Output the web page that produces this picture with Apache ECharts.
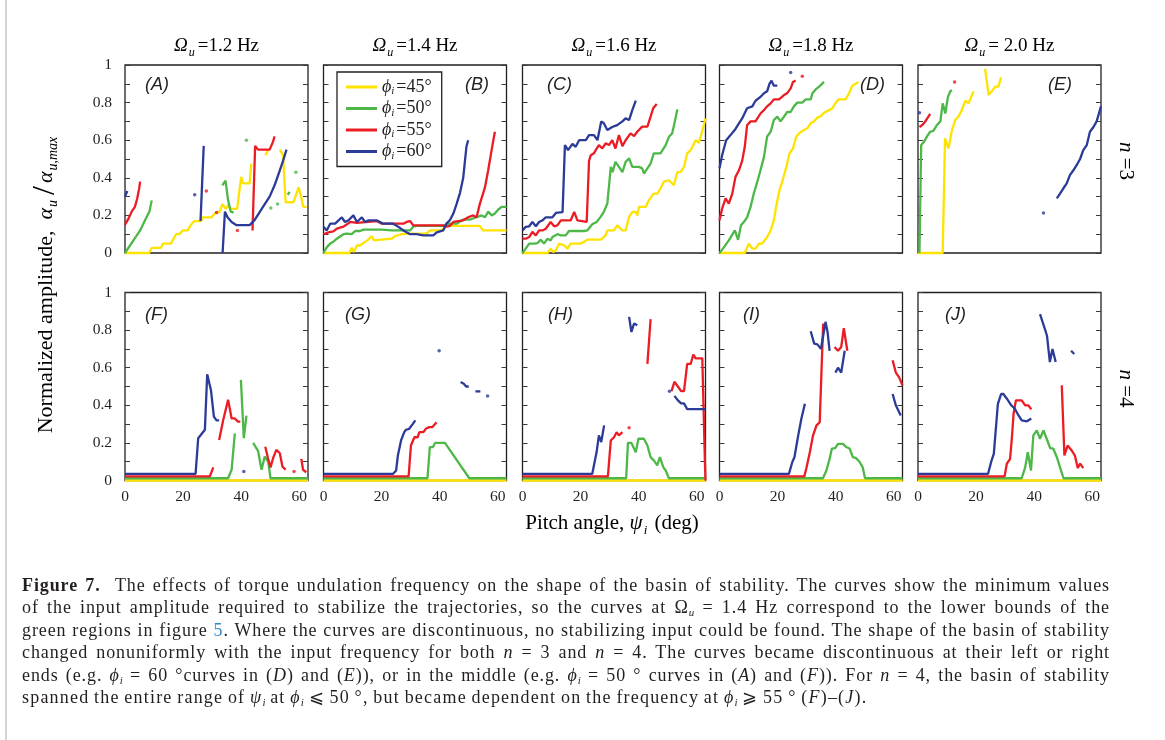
<!DOCTYPE html>
<html><head><meta charset="utf-8">
<script src="https://cdn.jsdelivr.net/npm/echarts@6/dist/echarts.min.js"></script>
<style>
html,body{margin:0;padding:0;background:#fff;}
#chart{position:absolute;left:0;top:0;width:1165px;height:740px;}
#edge{position:absolute;left:5px;top:0;width:2px;height:740px;background:#d4d4d4;}
#cap{position:absolute;left:22px;top:574px;width:1088px;font-family:'Liberation Serif',serif;font-size:18px;letter-spacing:0.9px;word-spacing:-1px;line-height:22.4px;color:#231f20;}
#cap div{text-align:justify;text-align-last:justify;white-space:nowrap;}
#cap div.last{text-align-last:left;letter-spacing:1.2px;}
#cap sub{font-size:11px;vertical-align:-3px;line-height:0;letter-spacing:0;}
#cap .ref{color:#2e8bc9;}
</style></head>
<body>
<div id="edge"></div>
<div id="chart"></div>
<div id="cap">
<div><b>Figure 7.</b>&nbsp; The effects of torque undulation frequency on the shape of the basin of stability. The curves show the minimum values</div>
<div>of the input amplitude required to stabilize the trajectories, so the curves at Ω<sub><i>u</i></sub> = 1.4 Hz correspond to the lower bounds of the</div>
<div>green regions in figure <span class="ref">5</span>. Where the curves are discontinuous, no stabilizing input could be found. The shape of the basin of stability</div>
<div>changed nonuniformly with the input frequency for both <i>n</i> = 3 and <i>n</i> = 4. The curves became discontinuous at their left or right</div>
<div>ends (e.g. <i>ϕ</i><sub><i>i</i></sub> = 60 °curves in (<i>D</i>) and (<i>E</i>)), or in the middle (e.g. <i>ϕ</i><sub><i>i</i></sub> = 50 ° curves in (<i>A</i>) and (<i>F</i>)). For <i>n</i> = 4, the basin of stability</div>
<div class="last">spanned the entire range of <i>ψ</i><sub><i>i</i></sub> at <i>ϕ</i><sub><i>i</i></sub> ⩽ 50 °, but became dependent on the frequency at <i>ϕ</i><sub><i>i</i></sub> ⩾ 55 ° (<i>F</i>)–(<i>J</i>).</div>
</div>
<script>
// ---------- categories / labels ----------
const freqLabels = ['=1.2 Hz', '=1.4 Hz', '=1.6 Hz', '=1.8 Hz', '= 2.0 Hz'];
const panelLetters = ['A','B','C','D','E','F','G','H','I','J'];
const phiNames = ['45','50','55','60'];
const nLabels = ['3','4'];
const xTickValues = [0, 20, 40, 60];
const yLabelValues = [0, 0.2, 0.4, 0.6, 0.8, 1];

// ---------- data: [pitch angle (deg), normalized amplitude]; each array = list of segments ----------
const A_yellow = [[[0,0],[8.3,0],[9.2,0.027],[12.4,0.027],[13,0.05],[15.8,0.05],[16.5,0.07],[17.6,0.1],[18.7,0.1],[19.9,0.12],[21.6,0.12],[22.7,0.15],[23.9,0.17],[26.2,0.17],[26.8,0.19],[29.8,0.19],[30.9,0.21],[32.6,0.22],[33.5,0.26],[34.7,0.235],[35.5,0.255],[36.3,0.235],[38.6,0.235],[40,0.405],[40.6,0.37],[42.9,0.37],[43.5,0.475]],[[48.3,0.52],[49.2,0.545]],[[53.3,0.55],[54.4,0.52],[55.3,0.27],[58,0.27],[59.8,0.35],[60.6,0.3],[61.4,0.245],[62.5,0.245]]];
const A_green = [[[0,0],[2.9,0.067],[5.2,0.12],[7.4,0.19],[8.4,0.22],[9.2,0.28]],[[33.5,0.36],[34.6,0.385],[35.5,0.28],[36.4,0.22],[37.4,0.215]],[[41.8,0.6]],[[50.2,0.24]],[[52.5,0.26]],[[56,0.31],[56.7,0.325]],[[58.8,0.43]]];
const A_red = [[[0,0.15],[1.1,0.18],[2.3,0.22],[3.4,0.245],[4.2,0.29],[4.9,0.345],[5.2,0.38]],[[28,0.33]],[[31.5,0.215]],[[38.7,0.12]],[[43.9,0.12],[44.3,0.13],[44.8,0.57],[45.8,0.55],[49.8,0.55],[50.9,0.59],[51.5,0.62]]];
const A_blue = [[[0,0.3],[0.8,0.33]],[[24,0.31]],[[26,0.17],[27.1,0.57]],[[33.6,0],[34.4,0.22],[35.3,0.19],[36.7,0.165],[38.4,0.148],[42.9,0.148],[44.6,0.175],[47.5,0.245],[49.8,0.3],[51.5,0.36],[53.3,0.44],[54.4,0.49],[55.6,0.55]]];

const B_yellow = [[[0,0],[8.9,0],[9.7,0.028],[10.5,0.005],[11.5,0.04],[12.6,0.04],[13.7,0.053],[15.1,0.067],[16.6,0.089],[17.4,0.067],[23.5,0.076],[24.6,0.089],[26.9,0.1],[29.8,0.103],[35.5,0.103],[36.7,0.12],[40.7,0.12],[42.2,0.144],[53.8,0.144],[55,0.12],[63,0.12]]];
const B_green = [[[0,0],[1.1,0.03],[2.3,0.05],[3.4,0.06],[4.6,0.076],[5.7,0.088],[6.9,0.1],[8,0.103],[9.7,0.1],[10.9,0.117],[12.6,0.117],[13.7,0.124],[20,0.124],[23.5,0.12],[29.8,0.12],[30.9,0.14],[32,0.144],[41.2,0.144],[43.5,0.156],[45.8,0.156],[48.1,0.178],[50.4,0.178],[52.7,0.19],[54.4,0.2],[55.6,0.19],[56.7,0.22],[57.9,0.2],[59,0.21],[60.1,0.23],[61.3,0.245],[63,0.245]]];
const B_red = [[[0,0.1],[1.7,0.11],[3.4,0.115],[4.6,0.13],[6.9,0.14],[9.2,0.165],[11.5,0.16],[18.3,0.17],[20,0.156],[27.5,0.156],[28.6,0.165],[29.8,0.17],[30.9,0.147],[41.2,0.147],[42.3,0.14],[43.5,0.144],[44.7,0.165],[48.1,0.174],[49.8,0.19],[51.5,0.2],[52.7,0.19],[53.8,0.26],[55,0.32],[55.6,0.35],[56.7,0.44],[57.9,0.55],[59,0.645]]];
const B_blue = [[[0,0.14],[1.1,0.12],[2.3,0.156],[4,0.156],[6.3,0.19],[7.4,0.165],[8.6,0.174],[10.3,0.2],[11.5,0.165],[13.2,0.19],[14.3,0.165],[15.5,0.174],[18.3,0.174],[20.6,0.156],[24,0.156],[25.8,0.139],[27.5,0.12],[28.6,0.11],[29.8,0.1],[32,0.1],[34.4,0.094],[37.8,0.094],[39,0.11],[41.2,0.12],[42.3,0.156],[43.5,0.174],[44.7,0.21],[45.8,0.26],[47,0.32],[48.1,0.4],[48.7,0.49],[49.2,0.565],[49.8,0.6]]];

const C_yellow = [[[0,0],[8.6,0],[9.7,0.023],[10.6,0.005],[11.5,0.014],[12.6,0.05],[14.3,0.041],[15.5,0.023],[16.6,0.05],[20,0.05],[21.2,0.059],[22.3,0.071],[27,0.071],[28.6,0.094],[29.2,0.12],[31.5,0.12],[32.6,0.147],[34.4,0.12],[35.5,0.12],[36.7,0.192],[37.8,0.219],[39,0.219],[39.5,0.2],[40.1,0.245],[42.4,0.245],[43.5,0.28],[45.2,0.316],[46.4,0.316],[47.5,0.343],[48.7,0.38],[50.4,0.387],[52.1,0.36],[53.3,0.43],[54.4,0.43],[55.6,0.458],[56.7,0.53],[57.9,0.547],[59.6,0.6],[60.7,0.586],[61.9,0.65],[63,0.715]]];
const C_green = [[[0,0],[1.1,0.023],[2.3,0.05],[4,0.05],[5.2,0.053],[6.3,0.071],[7.4,0.05],[8.6,0.076],[9.7,0.067],[10.3,0.085],[12,0.1],[13.2,0.094],[14.9,0.094],[16,0.117],[21.2,0.117],[22.3,0.12],[24,0.153],[25.5,0.165],[26.9,0.192],[28,0.219],[29.2,0.263],[30.4,0.458],[31,0.43],[32,0.485],[33.2,0.458],[34.4,0.43],[35.5,0.485],[36.7,0.503],[37.8,0.458],[40.1,0.458],[41.2,0.45],[41.8,0.423],[43,0.45],[44.1,0.476],[45.2,0.53],[47.5,0.53],[49.3,0.574],[50.4,0.618],[51.5,0.636],[52.3,0.689],[53.3,0.764]]];
const C_red = [[[0,0.076],[1.1,0.076],[2.3,0.085],[3.4,0.112],[4.6,0.094],[5.7,0.12],[6.9,0.12],[8,0.129],[9.7,0.165],[10.9,0.142],[12,0.147],[13.2,0.174],[16.6,0.174],[17.8,0.219],[18.9,0.174],[22.1,0.165],[22.9,0.49],[23.5,0.52],[24.6,0.53],[25.2,0.547],[26.3,0.574],[27.5,0.556],[28.6,0.583],[29.8,0.574],[30.9,0.6],[32,0.556],[33.2,0.627],[34.4,0.568],[35.5,0.6],[37.2,0.636],[38.4,0.622],[39.5,0.645],[41.2,0.672],[43,0.672],[44.1,0.725],[45,0.77],[46.2,0.792]]];
const C_blue = [[[0,0.12],[1.1,0.139],[2.3,0.142],[3.4,0.165],[4.6,0.142],[5.7,0.165],[6.9,0.174],[8,0.19],[10.3,0.19],[11.5,0.213],[13.8,0.218],[14.6,0.574],[15.7,0.547],[17.2,0.58],[18.3,0.565],[19.5,0.6],[21.8,0.6],[22.9,0.627],[24.6,0.627],[25.8,0.6],[27.1,0.7],[28,0.69],[29.2,0.654],[30.9,0.67],[32.6,0.68],[34.4,0.7],[35.5,0.716],[36.7,0.707],[37.8,0.76],[39,0.81]]];

const D_yellow = [[[0,0],[8.7,0],[10.1,0.05],[11.3,0.023],[12.4,0.023],[13.6,0.05],[14.7,0.05],[16.4,0.085],[17.6,0.12],[18.7,0.174],[19.5,0.245],[20.5,0.325],[21.9,0.396],[23,0.458],[24.1,0.53],[25.3,0.556],[26.4,0.618],[27.6,0.64],[29.1,0.654],[30.2,0.663],[31.4,0.69],[32.5,0.7],[33.7,0.72],[34.8,0.727],[36,0.746],[37.7,0.76],[38.9,0.77],[40,0.8],[41.1,0.817],[43.4,0.817],[44.6,0.85],[45.7,0.89],[46.9,0.9],[47.8,0.91]]];
const D_green = [[[0,0],[1.5,0.03],[3.2,0.067],[5.3,0.12],[6.4,0.07],[7.4,0.147],[8.4,0.165],[9.5,0.19],[10.7,0.245],[11.8,0.316],[13,0.378],[14.1,0.44],[15.3,0.51],[16.4,0.62],[17.6,0.645],[18.7,0.707],[19.9,0.725],[21,0.7],[22.2,0.725],[23.3,0.75],[24.5,0.75],[25.6,0.78],[26.8,0.8],[28.5,0.8],[29.7,0.817],[31.4,0.817],[32,0.85],[33.1,0.87],[34.3,0.885],[36,0.91]]];
const D_red = [[[0,0.174],[0.9,0.236],[2.1,0.29],[3.2,0.263],[4.4,0.316],[5.5,0.405],[6.7,0.44],[7.8,0.49],[8.7,0.565],[9.5,0.68],[10.7,0.7],[12.4,0.7],[14.1,0.742],[15.3,0.76],[16.4,0.78],[17.6,0.796],[18.7,0.817],[20.5,0.817],[22.2,0.84],[23.3,0.85],[24.5,0.876],[25.3,0.91],[26.2,0.917]],[[28.5,0.94]]];
const D_blue = [[[0,0.45],[0.9,0.52],[2.3,0.6],[3.8,0.627],[5.5,0.66],[7.8,0.716],[9.5,0.77],[11.3,0.78],[12.4,0.81],[14.1,0.83],[15.3,0.85],[16.4,0.86],[17.2,0.9],[17.9,0.917],[18.7,0.89],[19.9,0.89]],[[24.5,0.96]]];

const E_yellow = [[[0,0],[8.5,0],[9.3,0.61],[10.5,0.556],[11.7,0.654],[12.8,0.707],[13.9,0.725],[15.1,0.76],[16.3,0.81],[17.4,0.796],[18.3,0.83],[19.1,0.86]],[[23.1,0.98],[24.3,0.84],[25.4,0.86],[26.6,0.885],[27.7,0.885],[28.6,0.934]]];
const E_green = [[[0.5,0],[1.1,0.574],[2,0.59],[3.1,0.62],[4.2,0.645],[5.3,0.65],[6.5,0.68],[7.7,0.7],[8.5,0.796],[9.4,0.742],[10.3,0.83],[11.1,0.86],[11.7,0.866]]];
const E_red = [[[0.5,0.67],[1.4,0.68],[2.5,0.7],[4.2,0.74]],[[12.6,0.91]]];
const E_blue = [[[0.5,0.746]],[[43.2,0.213]],[[47.8,0.29],[48.9,0.316],[50,0.343],[51.2,0.37],[52.3,0.414],[53.5,0.44],[54.6,0.467],[55.8,0.5],[56.9,0.547],[58.1,0.574],[59.2,0.645],[60.4,0.67],[61.5,0.7],[63,0.78]]];

const F_yellow = [[[0,0],[63,0]]];
const F_green = [[[0,0.012],[35.5,0.012],[36.7,0.057],[37.8,0.25]],[[39.9,0.535],[40.9,0.225],[41.8,0.345]],[[44.1,0.2],[45.8,0.158],[47,0.057],[48.1,0.127],[48.7,0.13],[49.3,0.1],[50.1,0.012],[63,0.012]]];
const F_red = [[[0,0.022],[29.2,0.022],[30.4,0.07]],[[32.4,0.216],[33.8,0.32],[35.5,0.43],[36.7,0.33],[37.8,0.33],[38.9,0.313],[39.7,0.313]],[[48.3,0.18],[49.2,0.12],[50.1,0.07],[51,0.12],[52.1,0.163],[53.3,0.145],[54.2,0.074],[55.3,0.057]],[[58.2,0.048]],[[60.7,0.115],[61.3,0.057],[62.4,0.044]]];
const F_blue = [[[0,0.035],[24.3,0.035],[25.2,0.225],[27.5,0.27],[28.3,0.565],[29.6,0.48],[30.6,0.34],[31.5,0.32],[32.4,0.32]],[[40.9,0.048]]];

const G_yellow = [[[0,0],[63,0]]];
const G_green = [[[0,0.012],[35.8,0.012],[36.6,0.178],[37.7,0.178],[38.4,0.2],[41.8,0.2],[50.2,0.012],[63,0.012]]];
const G_red = [[[0,0.022],[29.3,0.022],[30.1,0.186],[31.3,0.23],[32.4,0.23],[33,0.257],[34.4,0.257],[35.2,0.275],[36.4,0.284],[37.5,0.284],[38.4,0.3],[38.9,0.31]]];
const G_blue = [[[0,0.035],[23.9,0.035],[25,0.053],[25.6,0.133],[26.7,0.213],[27.8,0.257],[28.4,0.27],[29.5,0.275],[30.7,0.3],[31.6,0.32]],[[39.8,0.69]],[[47.2,0.524],[48.3,0.515],[49.1,0.5],[50,0.5]],[[52.3,0.474],[54,0.474]],[[56.5,0.45]]];

const H_yellow = [[[0,0],[63,0]]];
const H_green = [[[0,0.012],[35.7,0.012],[36.3,0.2],[37.5,0.2],[39,0.15],[39.9,0.222],[41.8,0.222],[43,0.186],[44.1,0.124],[45.2,0.107],[46.4,0.08],[47.3,0.124],[48.5,0.07],[49.3,0.053],[50.4,0.012],[63,0.012]]];
const H_red = [[[0,0.022],[29.4,0.022],[30.4,0.213],[31.5,0.23],[32.4,0.257],[33.2,0.24],[34.4,0.257]],[[36.7,0.28]],[[43,0.62],[44.1,0.858]],[[51.3,0.475],[52.3,0.525],[53.5,0.5],[54.6,0.475],[55.6,0.475],[56.7,0.62],[57.9,0.62],[58.8,0.67],[59.6,0.65],[61.9,0.65],[62.8,0.1],[63,0]]];
const H_blue = [[[0,0.035],[24,0.035],[25.5,0.15],[26.3,0.24],[27.1,0.204],[28.1,0.293]],[[36.7,0.87],[37.5,0.79],[38.4,0.835],[39.5,0.826]],[[50.6,0.475]],[[52.3,0.45],[53.5,0.426],[54.6,0.41],[55.6,0.41],[56.7,0.38],[63,0.38]]];

const I_yellow = [[[0,0],[63,0]]];
const I_green = [[[0,0.012],[35.6,0.012],[36.8,0.053],[37.9,0.115],[38.7,0.17],[39.8,0.172],[40.8,0.195],[42.5,0.195],[43.6,0.178],[44.8,0.17],[45.9,0.124],[47,0.119],[48.2,0.1],[49.3,0.07],[50.1,0.012],[63,0.012]]];
const I_red = [[[0,0.022],[29.2,0.022],[29.9,0.065],[31.1,0.15],[32.2,0.24],[33.4,0.293],[34.5,0.31],[35.1,0.577],[35.7,0.835]],[[39.6,0.71],[40.8,0.69],[41.9,0.71],[42.8,0.81],[44,0.69]],[[59.6,0.64],[60.7,0.574],[61.8,0.55],[63,0.506]]];
const I_blue = [[[0,0.035],[23.9,0.035],[25.1,0.1],[25.8,0.124],[26.2,0.133],[27.1,0.24],[28.2,0.33],[29.4,0.408]],[[31.4,0.794],[32.6,0.728],[33.7,0.724],[34.9,0.7],[35.7,0.77],[36.5,0.844],[37.2,0.79],[37.9,0.69]],[[39.9,0.574],[40.8,0.6],[41.9,0.574],[43.1,0.69]],[[59.6,0.46],[60.7,0.4],[62.4,0.346]]];

const J_yellow = [[[0,0],[63,0]]];
const J_green = [[[0,0.012],[35.7,0.012],[36.9,0.07],[37.8,0.15],[38.9,0.053],[39.7,0.24],[40.9,0.267],[42,0.222],[43.2,0.267],[44.3,0.222],[45.5,0.172],[46.6,0.169],[47.8,0.124],[48.9,0.07],[50.1,0.012],[63,0.012]]];
const J_red = [[[0,0.022],[29.8,0.022],[30.6,0.09],[31.7,0.115],[32.3,0.222],[32.9,0.355],[33.7,0.426],[35.7,0.426],[36.9,0.4],[38,0.4],[39,0.378]],[[49.5,0.506],[50.4,0.133],[51.5,0.186],[52.9,0.16],[54,0.133],[55,0.066],[55.8,0.09],[56.9,0.066]]];
const J_blue = [[[0,0.035],[24.1,0.035],[25.2,0.1],[26.1,0.142],[27.5,0.408],[28.6,0.46],[29.4,0.46],[30.6,0.435],[32.1,0.4],[33.4,0.38],[34.6,0.346],[35.7,0.32],[37.5,0.315],[39,0.33]],[[42,0.885],[43.5,0.815],[44.4,0.77],[45.4,0.63],[46.3,0.7],[47.4,0.63]],[[52.7,0.69],[53.8,0.673]]];

const panelData = [
  [A_yellow, A_green, A_red, A_blue],
  [B_yellow, B_green, B_red, B_blue],
  [C_yellow, C_green, C_red, C_blue],
  [D_yellow, D_green, D_red, D_blue],
  [E_yellow, E_green, E_red, E_blue],
  [F_yellow, F_green, F_red, F_blue],
  [G_yellow, G_green, G_red, G_blue],
  [H_yellow, H_green, H_red, H_blue],
  [I_yellow, I_green, I_red, I_blue],
  [J_yellow, J_green, J_red, J_blue]
];

// ---------- styling / layout ----------
const SERIF = 'Liberation Serif';
const SANS = 'Liberation Sans';
const INK = '#231f20';
const phiColors = ['#ffe300', '#4db848', '#ec1c24', '#2c3b98'];
const colLeft = [125, 323.5, 522.5, 719.5, 918];
const rowTop = [65, 292.5];
const GW = 183, GH = 188;
const letterPos = [[145,85],[465,85],[547,85],[860,85],[1048,85],[145,315],[345,315],[548,315],[743,315],[945,315]];

const grids = [], xAxes = [], yAxes = [], series = [], graphics = [];

function yFmt(v) {
  const r = Math.round(v * 10);
  if (r % 2 !== 0) return '';
  const hit = yLabelValues.find(t => Math.round(t * 10) === r);
  if (hit === undefined) return '';
  return hit === 0 ? '0' : (hit === 1 ? '1' : hit.toFixed(1));
}
function xFmt(v) { return xTickValues.indexOf(v) >= 0 ? String(v) : ''; }

for (let i = 0; i < 10; i++) {
  const row = i < 5 ? 0 : 1, col = i % 5;
  grids.push({left: colLeft[col], top: rowTop[row], width: GW, height: GH, show: true,
    borderColor: INK, borderWidth: 1.3, backgroundColor: 'transparent'});
  xAxes.push({gridIndex: i, type: 'value', min: 0, max: 63, interval: 20,
    axisLine: {show: false}, axisTick: {show: false}, splitLine: {show: false},
    axisLabel: {show: row === 1, formatter: xFmt, fontFamily: SERIF, fontSize: 15.5, color: INK, margin: 8}});
  const tick = {show: true, inside: true, length: 5, lineStyle: {color: '#3a3a3a', width: 1}};
  yAxes.push({gridIndex: i, type: 'value', min: 0, max: 1, interval: 0.1, position: 'left',
    axisLine: {show: false}, axisTick: tick, splitLine: {show: false},
    axisLabel: {show: col === 0, formatter: yFmt, fontFamily: SERIF, fontSize: 15.5, color: INK, margin: 13}});
  yAxes.push({gridIndex: i, type: 'value', min: 0, max: 1, interval: 0.1, position: 'right',
    axisLine: {show: false}, axisTick: tick, splitLine: {show: false}, axisLabel: {show: false}});

  panelData[i].forEach((segs, j) => {
    const dots = [];
    segs.forEach(seg => {
      if (seg.length === 1) { dots.push(seg[0]); return; }
      series.push({type: 'line', name: phiNames[j], xAxisIndex: i, yAxisIndex: 2 * i, data: seg,
        symbol: 'none', showSymbol: false, clip: false, animation: false, silent: true, z: 2 + j,
        lineStyle: {color: phiColors[j], width: 2.3}, itemStyle: {color: phiColors[j]}});
    });
    if (dots.length) {
      series.push({type: 'scatter', name: phiNames[j], xAxisIndex: i, yAxisIndex: 2 * i, data: dots,
        symbolSize: 3.5, animation: false, silent: true, z: 2 + j, itemStyle: {color: phiColors[j]}});
    }
  });

  graphics.push({type: 'text', x: letterPos[i][0], y: letterPos[i][1], z: 50,
    style: {text: '(' + panelLetters[i] + ')', fill: INK, fontFamily: SANS, fontStyle: 'italic', fontSize: 18,
      align: 'left', verticalAlign: 'middle'}});
}

const subRich = {
  o: {fontFamily: SERIF, fontStyle: 'italic', fontSize: 19, lineHeight: 26, color: INK},
  u: {fontFamily: SERIF, fontStyle: 'italic', fontSize: 12, lineHeight: 12, verticalAlign: 'bottom', color: INK, padding: [0, 3, 0, 1]},
  t: {fontFamily: SERIF, fontSize: 19, lineHeight: 26, color: INK}
};
freqLabels.forEach((f, c) => {
  graphics.push({type: 'text', x: colLeft[c] + GW / 2, y: 46, z: 50,
    style: {text: '{o|Ω}{u|u}{t|' + f + '}', rich: subRich, align: 'center', verticalAlign: 'middle'}});
});

const bigRich = {
  t: {fontFamily: SERIF, fontSize: 22, lineHeight: 28, color: INK},
  a: {fontFamily: SERIF, fontStyle: 'italic', fontSize: 22, lineHeight: 28, color: INK},
  s: {fontFamily: SERIF, fontStyle: 'italic', fontSize: 14, lineHeight: 13, verticalAlign: 'bottom', color: INK, padding: [0, 2, 0, 1]},
  sl: {fontFamily: SERIF, fontSize: 32, lineHeight: 28, color: INK, padding: [0, 3, 0, 3]}
};
const xRich = {
  t: {fontFamily: SERIF, fontSize: 21, lineHeight: 28, color: INK},
  a: {fontFamily: SERIF, fontStyle: 'italic', fontSize: 21, lineHeight: 28, color: INK},
  s: {fontFamily: SERIF, fontStyle: 'italic', fontSize: 13, lineHeight: 13, verticalAlign: 'bottom', color: INK, padding: [0, 2, 0, 1]}
};
graphics.push({type: 'text', x: 46, y: 284, rotation: Math.PI / 2, z: 50,
  style: {text: '{t|Normalized amplitude,  }{a|α}{s|u}{sl|/}{a|α}{s|u,max}', rich: bigRich, align: 'center', verticalAlign: 'middle'}});
graphics.push({type: 'text', x: 612, y: 523, z: 50,
  style: {text: '{t|Pitch angle, }{a|ψ}{s|i}{t| (deg)}', rich: xRich, align: 'center', verticalAlign: 'middle'}});
nLabels.forEach((n, r) => {
  graphics.push({type: 'text', x: 1126, y: rowTop[r] + GH / 2 + 2, rotation: -Math.PI / 2, z: 50,
    style: {text: '{a|n}{t| =' + n + '}', rich: xRich, align: 'center', verticalAlign: 'middle'}});
});

const chart = echarts.init(document.getElementById('chart'), null, {renderer: 'canvas'});
chart.setOption({
  backgroundColor: 'transparent',
  animation: false,
  textStyle: {fontFamily: SERIF},
  grid: grids, xAxis: xAxes, yAxis: yAxes, series: series, graphic: graphics,
  legend: {
    data: phiNames, orient: 'vertical', left: 337, top: 72, selectedMode: false,
    icon: 'rect', itemWidth: 31, itemHeight: 3, itemGap: 2.5,
    padding: [6, 10, 5, 9], borderColor: INK, borderWidth: 1.3, backgroundColor: '#fff',
    formatter: name => '{p|ϕ}{s|i}{q|=' + name + '°}',
    textStyle: {color: INK, fontFamily: SERIF, fontSize: 17, rich: {
      p: {fontFamily: SERIF, fontStyle: 'italic', fontSize: 18, lineHeight: 20, color: INK},
      s: {fontFamily: SERIF, fontStyle: 'italic', fontSize: 11, lineHeight: 10, verticalAlign: 'bottom', color: INK, padding: [0, 2, 0, 0]},
      q: {fontFamily: SERIF, fontSize: 18, lineHeight: 20, color: INK}
    }}
  }
});
</script>
</body></html>
